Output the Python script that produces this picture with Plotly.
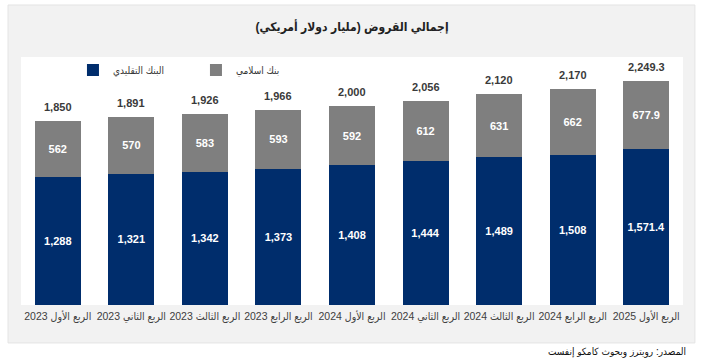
import plotly.graph_objects as go

title_text = "إجمالي القروض (مليار دولار أمريكي)"
source_text = "المصدر: رويترز وبحوث كامكو إنفست"
series_names = ["البنك التقليدي", "بنك اسلامي"]

quarters = ["الربع الأول", "الربع الثاني", "الربع الثالث", "الربع الرابع",
            "الربع الأول", "الربع الثاني", "الربع الثالث", "الربع الرابع",
            "الربع الأول"]
years = [2023, 2023, 2023, 2023, 2024, 2024, 2024, 2024, 2025]

conventional = [1288, 1321, 1342, 1373, 1408, 1444, 1489, 1508, 1571.4]
islamic = [562, 570, 583, 593, 592, 612, 631, 662, 677.9]
totals = [1850, 1891, 1926, 1966, 2000, 2056, 2120, 2170, 2249.3]

categories = [f"{q} {y}" for q, y in zip(quarters, years)]


def fmt(v):
    return f"{v:,.1f}" if v != int(v) else f"{int(v):,}"


NAVY = "#002d6c"
GREY = "#7f7f7f"
FONT = "Arial, Liberation Sans, DejaVu Sans Condensed, DejaVu Sans, sans-serif"

fig = go.Figure()
fig.add_trace(go.Bar(
    x=categories, y=conventional, name=series_names[0],
    marker=dict(color=NAVY, line=dict(width=0)),
    text=[fmt(v) for v in conventional], textposition="inside",
    insidetextanchor="middle",
    textfont=dict(color="white", size=11, family=FONT, weight="bold"),
    hoverinfo="skip",
))
fig.add_trace(go.Bar(
    x=categories, y=islamic, name=series_names[1],
    marker=dict(color=GREY, line=dict(width=0)),
    text=[fmt(v) for v in islamic], textposition="inside",
    insidetextanchor="middle",
    textfont=dict(color="white", size=11, family=FONT, weight="bold"),
    hoverinfo="skip",
))

for c, t in zip(categories, totals):
    fig.add_annotation(x=c, y=t, text=f"<b>{fmt(t)}</b>", showarrow=False,
                       yanchor="bottom", yshift=6,
                       font=dict(size=11, color="#3a3a3a", family=FONT))

fig.add_annotation(xref="paper", yref="paper", x=1.0076, y=-0.19,
                   xanchor="right", yanchor="middle", showarrow=False,
                   text=source_text,
                   font=dict(size=10, color="#111111", family=FONT))

fig.add_shape(type="rect", xref="paper", yref="paper",
              x0=-0.0196, x1=1.018, y0=-0.153, y1=1.2097,
              fillcolor="#f2f2f2", line=dict(color="#e4e4e4", width=1),
              layer="below")
fig.add_shape(type="rect", xref="paper", yref="paper",
              x0=0, x1=1, y0=0, y1=1,
              fillcolor="white", line=dict(width=0), layer="below")

fig.update_layout(
    width=701, height=363,
    margin=dict(l=21, r=18, t=57, b=58, autoexpand=False),
    paper_bgcolor="white", plot_bgcolor="rgba(0,0,0,0)",
    barmode="stack", bargap=0.374,
    showlegend=True,
    uniformtext=dict(minsize=11, mode="show"),
    title=dict(text=title_text, x=0.5, xref="paper",
               y=1 - 27 / 363, yanchor="middle", xanchor="center",
               font=dict(size=12, color="#222222", family=FONT, weight="bold")),
    legend=dict(orientation="h", x=0.0785, xanchor="left",
                y=0.9476, yanchor="middle", bgcolor="rgba(0,0,0,0)",
                font=dict(size=10, color="#333333", family=FONT),
                entrywidth=78, entrywidthmode="pixels",
                traceorder="normal"),
    font=dict(family=FONT),
)
fig.update_xaxes(showline=False, showgrid=False, ticks="", fixedrange=True,
                 tickangle=0, automargin=False, ticklabelstandoff=3,
                 tickfont=dict(size=10.5, color="#404040", family=FONT))
fig.update_yaxes(visible=False, range=[0, 2495], fixedrange=True,
                 automargin=False)

fig.write_html("out.html", config={"displayModeBar": False},
               post_script="document.body.style.margin='0px';"
                           "document.body.style.overflow='hidden';")
